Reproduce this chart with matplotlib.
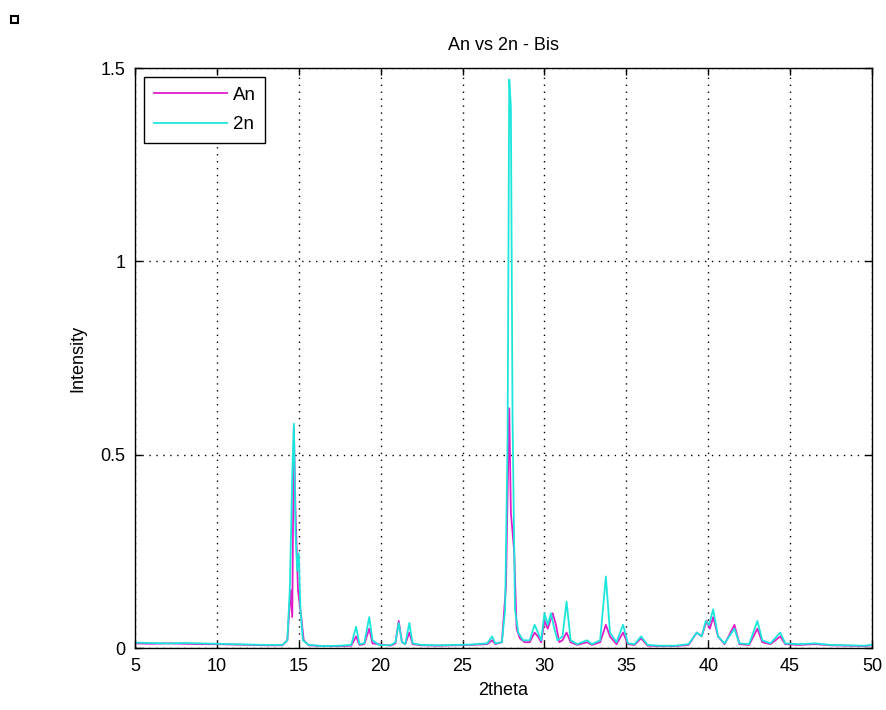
import matplotlib.pyplot as plt
from matplotlib.patches import Rectangle

plt.rcParams['font.family'] = ['Liberation Sans', 'DejaVu Sans']

# 2n (cian)
x_2n = [5.0, 6.0, 7.0, 8.0, 9.0, 10.0, 11.0, 12.0, 13.0, 14.0,
        14.3, 14.45, 14.6, 14.7, 14.8, 14.9, 15.0, 15.1, 15.25, 15.6,
        16.5, 17.5, 18.2, 18.5, 18.7, 19.0, 19.3, 19.5, 19.9, 20.6,
        20.9, 21.1, 21.3, 21.5, 21.75, 21.95, 22.5, 23.5, 24.5, 25.5,
        26.5, 26.8, 27.0, 27.4, 27.6, 27.75, 27.85, 27.95, 28.05, 28.2,
        28.4, 28.7, 29.1, 29.4, 29.6, 29.8, 30.0, 30.2, 30.4, 30.6,
        30.8, 31.1, 31.35, 31.6, 32.0, 32.6, 32.9, 33.4, 33.75, 34.0,
        34.4, 34.8, 35.1, 35.5, 35.9, 36.3, 37.0, 38.0, 38.8, 39.3,
        39.6, 39.85, 40.05, 40.3, 40.6, 41.0, 41.6, 41.9, 42.5, 43.0,
        43.3, 43.8, 44.4, 44.7, 45.5, 46.5, 47.5, 48.5, 49.5, 50.0]
y_2n = [0.014, 0.013, 0.012, 0.013, 0.012, 0.011, 0.010, 0.009, 0.008, 0.008,
        0.02, 0.15, 0.45, 0.58, 0.30, 0.20, 0.245, 0.10, 0.02, 0.008,
        0.005, 0.006, 0.008, 0.055, 0.01, 0.012, 0.08, 0.02, 0.008, 0.007,
        0.015, 0.065, 0.015, 0.01, 0.065, 0.012, 0.008, 0.007, 0.008, 0.009,
        0.012, 0.03, 0.012, 0.015, 0.10, 0.55, 1.47, 1.40, 0.60, 0.10,
        0.04, 0.02, 0.02, 0.06, 0.04, 0.02, 0.09, 0.06, 0.09, 0.05,
        0.02, 0.03, 0.12, 0.02, 0.01, 0.02, 0.01, 0.02, 0.185, 0.04,
        0.015, 0.06, 0.012, 0.01, 0.03, 0.008, 0.006, 0.006, 0.01, 0.04,
        0.03, 0.07, 0.06, 0.10, 0.03, 0.012, 0.05, 0.012, 0.01, 0.07,
        0.02, 0.012, 0.04, 0.012, 0.01, 0.012, 0.008, 0.007, 0.006, 0.008]

# An (magenta)
x_an = [5.0, 6.0, 7.0, 8.0, 9.0, 10.0, 11.0, 12.0, 13.0, 14.0,
        14.3, 14.5, 14.6, 14.7, 14.8, 14.95, 15.15, 15.3, 15.6,
        16.5, 17.5, 18.2, 18.5, 18.7, 19.0, 19.3, 19.5, 20.6,
        20.9, 21.1, 21.3, 21.5, 21.75, 21.95, 22.5, 23.5, 24.5, 25.5,
        26.5, 26.8, 27.0, 27.4, 27.65, 27.75, 27.85, 27.95, 28.15, 28.3,
        28.5, 28.8, 29.1, 29.4, 29.6, 29.8, 30.0, 30.2, 30.5, 30.7,
        30.9, 31.1, 31.35, 31.6, 32.0, 32.6, 32.9, 33.4, 33.75, 34.0,
        34.4, 34.8, 35.1, 35.5, 35.9, 36.3, 37.0, 38.0, 38.8, 39.3,
        39.6, 39.9, 40.1, 40.3, 40.6, 41.0, 41.6, 41.9, 42.5, 43.0,
        43.3, 43.8, 44.4, 44.7, 45.5, 46.5, 47.5, 48.5, 49.5, 50.0]
y_an = [0.012, 0.011, 0.012, 0.011, 0.010, 0.010, 0.009, 0.008, 0.007, 0.007,
        0.02, 0.15, 0.08, 0.57, 0.35, 0.15, 0.08, 0.02, 0.007,
        0.005, 0.005, 0.006, 0.03, 0.008, 0.01, 0.05, 0.012, 0.006,
        0.012, 0.07, 0.015, 0.01, 0.04, 0.01, 0.007, 0.006, 0.007, 0.008,
        0.01, 0.02, 0.01, 0.015, 0.16, 0.40, 0.62, 0.35, 0.25, 0.05,
        0.025, 0.015, 0.015, 0.04, 0.03, 0.015, 0.07, 0.05, 0.09, 0.06,
        0.015, 0.02, 0.04, 0.015, 0.008, 0.015, 0.008, 0.015, 0.06, 0.03,
        0.01, 0.04, 0.01, 0.008, 0.025, 0.006, 0.005, 0.005, 0.008, 0.04,
        0.03, 0.07, 0.05, 0.08, 0.03, 0.01, 0.06, 0.01, 0.008, 0.05,
        0.015, 0.01, 0.03, 0.01, 0.008, 0.01, 0.007, 0.006, 0.005, 0.007]

XTICKS = [5, 10, 15, 20, 25, 30, 35, 40, 45, 50]
YTICKS = [0, 0.5, 1, 1.5]
YLABELS = ['0', '0.5', '1', '1.5']

fig = plt.figure(figsize=(8.86, 7.10), dpi=100)
ax = fig.add_axes([0.1524, 0.0873, 0.8318, 0.8169])

ax.plot(x_an, y_an, color='#e01cc8', lw=1.3, label='An')
ax.plot(x_2n, y_2n, color='#1ce6dc', lw=1.3, label='2n')

ax.set_xlim(5, 50)
ax.set_ylim(0, 1.5)
ax.set_xticks(XTICKS)
ax.set_yticks(YTICKS)
ax.set_yticklabels(YLABELS)
ax.tick_params(direction='in', top=True, right=True, labelsize=13, length=5,
               width=1, pad=7)
ax.grid(True, color='black', linestyle=(0, (1, 4)), linewidth=1)
for s in ax.spines.values():
    s.set_linewidth(1)

ax.set_title('An vs 2n - Bis', fontsize=13, pad=13)
ax.set_xlabel('2theta', fontsize=13, labelpad=5)
ax.set_ylabel('Intensity', fontsize=13, labelpad=10)

leg = ax.legend(loc='upper left', fontsize=13.5, fancybox=False,
                edgecolor='black', framealpha=1, borderaxespad=0.5,
                borderpad=0.5, handlelength=3.9, handletextpad=0.3,
                labelspacing=0.65)
leg.get_frame().set_linewidth(1)

# quadradinho no canto
fig.add_artist(Rectangle((11 / 886, 1 - 23 / 710), 7 / 886, 7 / 710,
                         transform=fig.transFigure, fill=False,
                         edgecolor='black', lw=1.5))

fig.savefig('out.png', dpi=100)
